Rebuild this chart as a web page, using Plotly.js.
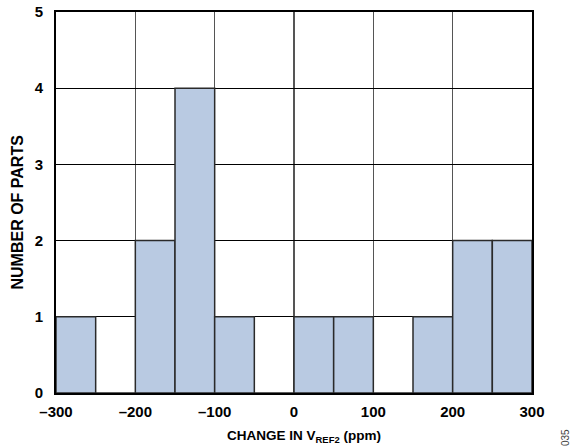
<!DOCTYPE html>
<html><head><meta charset="utf-8">
<script src="https://cdn.plot.ly/plotly-3.0.1.min.js"></script>
<style>body{margin:0;background:#fff}#c{width:572px;height:448px}</style>
</head><body><div id="c"></div>
<script>
const binCenters = [-275, -225, -175, -125, -75, -25, 25, 75, 125, 175, 225, 275];
const counts = [1, 0, 2, 4, 1, 0, 1, 1, 0, 1, 2, 2];
const binWidth = 50;
const xTickVals = [-300, -200, -100, 0, 100, 200, 300];
const xTickText = ['–300', '–200', '–100', '0', '100', '200', '300'];
const yTickVals = [0, 1, 2, 3, 4, 5];
const xTitle = '<b>CHANGE IN V<sub>REF2</sub> (ppm)</b>';
const yTitle = '<b>NUMBER OF PARTS</b>';
const figId = '035';

const fam = 'Liberation Sans, Arial, sans-serif';
const tickFont = {family: fam, size: 15, color: '#000', weight: 'bold'};
Plotly.newPlot('c', [{
  type: 'bar', x: binCenters, y: counts, width: binWidth,
  marker: {color: '#b9cae2', line: {color: '#2a2a2a', width: 1.5}},
  hoverinfo: 'skip'
}], {
  width: 572, height: 448,
  margin: {l: 56, r: 40, t: 12, b: 55},
  paper_bgcolor: '#fff', plot_bgcolor: '#fff',
  showlegend: false, bargap: 0,
  font: {family: fam, size: 13, color: '#000'},
  xaxis: {range: [-300, 300], tickvals: xTickVals, ticktext: xTickText,
    showgrid: true, gridcolor: '#555', gridwidth: 1.2, zeroline: false,
    showline: true, linecolor: '#000', linewidth: 2, mirror: true,
    ticks: '', ticklabelstandoff: 4, tickfont: tickFont},
  yaxis: {range: [0, 5], tickvals: yTickVals,
    showgrid: true, gridcolor: '#000', gridwidth: 1.2, zeroline: false,
    showline: true, linecolor: '#000', linewidth: 2, mirror: true,
    ticks: '', ticklabelstandoff: 8, tickfont: tickFont},
  annotations: [
    {text: xTitle, xref: 'paper', yref: 'paper', x: 0.5, y: 0, xshift: 10, yshift: -43,
      showarrow: false, yanchor: 'middle', font: {family: fam, size: 13.5, color: '#000'}},
    {text: yTitle, xref: 'paper', yref: 'paper', x: 0, y: 0.5, xshift: -39, yshift: -10,
      textangle: -90, showarrow: false, xanchor: 'center', yanchor: 'middle', font: {family: fam, size: 16, color: '#000'}},
    {text: figId, xref: 'paper', yref: 'paper', x: 1, y: 0, xshift: 33, yshift: -45,
      textangle: -90, showarrow: false, xanchor: 'center', yanchor: 'middle', font: {family: fam, size: 10, color: '#444'}}
  ]
}, {staticPlot: true});
</script></body></html>
